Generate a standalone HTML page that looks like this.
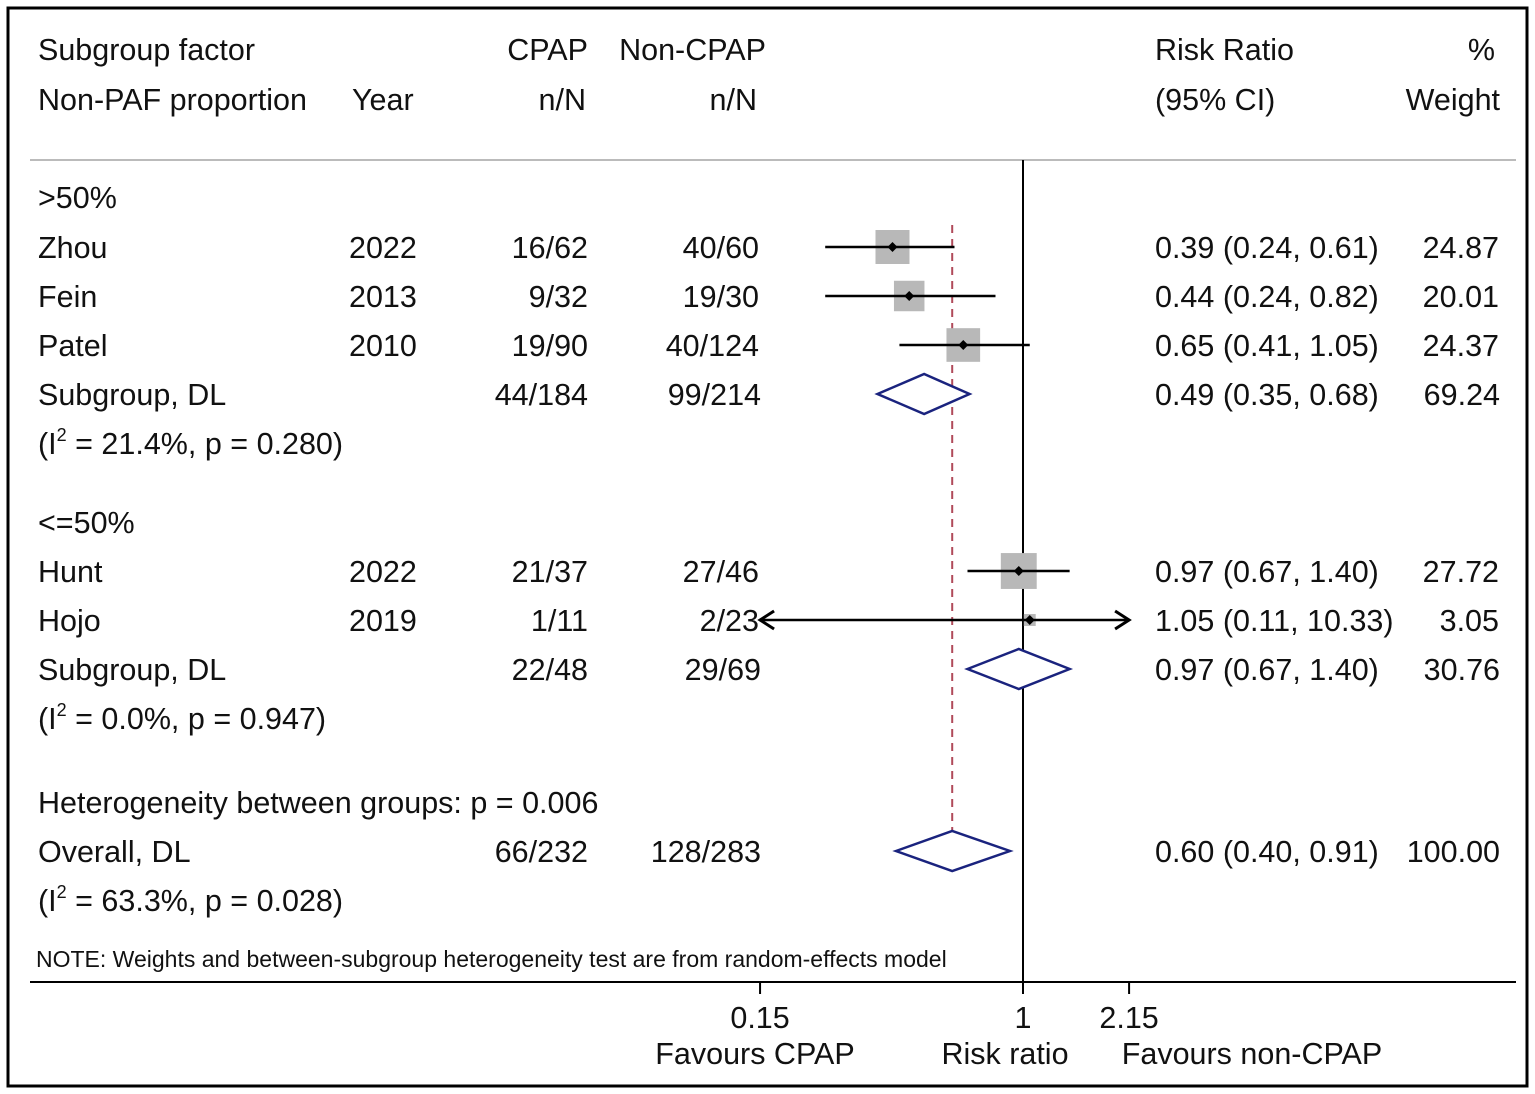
<!DOCTYPE html>
<html><head><meta charset="utf-8"><style>
html,body{margin:0;padding:0;background:#fff;}
svg{display:block;font-family:"Liberation Sans",Arial,sans-serif;}
</style></head><body>
<svg id="chart" width="1535" height="1094" viewBox="0 0 1535 1094">
<rect x="8" y="8" width="1519" height="1078" fill="#fff" stroke="#000" stroke-width="3"/>
<g font-size="30.5" fill="#111">
<text x="38" y="60">Subgroup factor</text>
<text x="588" y="60" text-anchor="end">CPAP</text>
<text x="766" y="60" text-anchor="end">Non-CPAP</text>
<text x="1155" y="60">Risk Ratio</text>
<text x="1495" y="60" text-anchor="end">%</text>
<text x="38" y="110">Non-PAF proportion</text>
<text x="352" y="110">Year</text>
<text x="586" y="110" text-anchor="end">n/N</text>
<text x="757" y="110" text-anchor="end">n/N</text>
<text x="1155" y="110">(95% CI)</text>
<text x="1500" y="110" text-anchor="end">Weight</text>
</g>
<line x1="30" y1="160" x2="1516" y2="160" stroke="#bbb" stroke-width="2"/>
<line x1="1023" y1="160" x2="1023" y2="982" stroke="#000" stroke-width="2"/>
<line x1="30" y1="982" x2="1516" y2="982" stroke="#000" stroke-width="2"/>
<g id="marks"></g>
<g id="texts" font-size="30.5" fill="#111"></g>
<text x="36" y="967" font-size="23" fill="#111">NOTE: Weights and between-subgroup heterogeneity test are from random-effects model</text>
<g id="axis" font-size="30.5" fill="#111"></g>
<text x="1005" y="1064" font-size="30.5" text-anchor="middle" fill="#111">Risk ratio</text>
<text x="755" y="1064" font-size="30.5" text-anchor="middle" fill="#111">Favours CPAP</text>
<text x="1252" y="1064" font-size="30.5" text-anchor="middle" fill="#111">Favours non-CPAP</text>
</svg>
<script>
const studyNames=["Zhou","Fein","Patel","Hunt","Hojo"];
const studyYears=["2022","2013","2010","2022","2019"];
const studyCpap=["16/62","9/32","19/90","21/37","1/11"];
const studyNon=["40/60","19/30","40/124","27/46","2/23"];
const studyRR=[0.39,0.44,0.65,0.97,1.05];
const studyLo=[0.24,0.24,0.41,0.67,0.11];
const studyHi=[0.61,0.82,1.05,1.40,10.33];
const studyW=[24.87,20.01,24.37,27.72,3.05];
const studyRows=[1,2,3,6,7];
const poolLabels=["Subgroup, DL","Subgroup, DL","Overall, DL"];
const poolCpap=["44/184","22/48","66/232"];
const poolNon=["99/214","29/69","128/283"];
const poolRR=[0.49,0.97,0.60];
const poolLo=[0.35,0.67,0.40];
const poolHi=[0.68,1.40,0.91];
const poolW=[69.24,30.76,100.00];
const poolRows=[4,8,11];
const tickVals=[0.15,1,2.15];
const tickLabels=["0.15","1","2.15"];
const NS="http://www.w3.org/2000/svg";
const X0=1023,K=138.6,XMIN=0.15,XMAX=2.15;
const xs=v=>X0+K*Math.log(v);
const rowY=r=>[0,247,296,345,394,443,571,620,669,718,802,851,900][r];
function mk(tag,attrs,parent){const e=document.createElementNS(NS,tag);for(const k in attrs)e.setAttribute(k,attrs[k]);parent.appendChild(e);return e;}
const marks=document.getElementById('marks'),texts=document.getElementById('texts'),axis=document.getElementById('axis');
const f2=v=>v.toFixed(2);
function txt(s,x,y,anchor,name){const t=mk('text',{x:x,y:y,'text-anchor':anchor},texts);t.textContent=s;

return t;}
const dl=mk('line',{x1:xs(poolRR[2]),y1:225,x2:xs(poolRR[2]),y2:872,stroke:'#b04a5a','stroke-width':2,'stroke-dasharray':'8,6'},marks);


studyNames.forEach((n,i)=>{
 const y=rowY(studyRows[i]);const x=xs(studyRR[i]);
 const s=34*Math.sqrt(studyW[i]/24.87);
 const b=mk('rect',{x:x-s/2,y:y-s/2,width:s,height:s,fill:'#b8b8b8'},marks);
 
 
 const lo=Math.max(studyLo[i],XMIN),hi=Math.min(studyHi[i],XMAX);
 const l=mk('line',{x1:xs(lo),y1:y,x2:xs(hi),y2:y,stroke:'#000','stroke-width':2.5},marks);
 
 
 if(studyLo[i]<XMIN){const a=mk('polyline',{points:`${xs(lo)+14},${y-9} ${xs(lo)},${y} ${xs(lo)+14},${y+9}`,fill:'none',stroke:'#000','stroke-width':3},marks);
 
 }
 if(studyHi[i]>XMAX){const a=mk('polyline',{points:`${xs(hi)-14},${y-9} ${xs(hi)},${y} ${xs(hi)-14},${y+9}`,fill:'none',stroke:'#000','stroke-width':3},marks);
 
 }
 const d=mk('polygon',{points:`${x},${y-5} ${x+5},${y} ${x},${y+5} ${x-5},${y}`,fill:'#000'},marks);
 
 
 const by=y+11;
 txt(n,38,by,'start','study-name');txt(studyYears[i],349,by,'start','study-year');
 txt(studyCpap[i],588,by,'end','cpap-events');txt(studyNon[i],759,by,'end','non-cpap-events');
 txt(`${f2(studyRR[i])} (${f2(studyLo[i])}, ${f2(studyHi[i])})`,1155,by,'start','risk-ratio-ci');
 txt(f2(studyW[i]),1499,by,'end','weight');
});
poolLabels.forEach((n,i)=>{
 const y=rowY(poolRows[i]);
 const d=mk('polygon',{points:`${xs(poolLo[i])},${y} ${xs(poolRR[i])},${y-20} ${xs(poolHi[i])},${y} ${xs(poolRR[i])},${y+20}`,fill:'#fff',stroke:'#1a237e','stroke-width':2.5},marks);
 
 
 const by=y+11;
 txt(n,38,by,'start','pooled-label');txt(poolCpap[i],588,by,'end','cpap-events');txt(poolNon[i],761,by,'end','non-cpap-events');
 txt(`${f2(poolRR[i])} (${f2(poolLo[i])}, ${f2(poolHi[i])})`,1155,by,'start','risk-ratio-ci');
 txt(f2(poolW[i]),1500,by,'end','weight');
});
txt('>50%',38,208,'start','subgroup-heading');
txt('<=50%',38,533,'start','subgroup-heading');
txt('Heterogeneity between groups: p = 0.006',38,813,'start','heterogeneity-between');
function het(s,y){const t=txt('',38,y,'start','heterogeneity-stat');
 const a=document.createElementNS(NS,'tspan');a.textContent='(I';t.appendChild(a);
 const b=document.createElementNS(NS,'tspan');b.setAttribute('font-size','18');b.setAttribute('dy','-13');b.textContent='2';t.appendChild(b);
 const c=document.createElementNS(NS,'tspan');c.setAttribute('dy','13');c.textContent=s;t.appendChild(c);}
het(' = 21.4%, p = 0.280)',454);het(' = 0.0%, p = 0.947)',729);het(' = 63.3%, p = 0.028)',911);
tickVals.forEach((v,i)=>{const x=xs(v);
 const l=mk('line',{x1:x,y1:982,x2:x,y2:994,stroke:'#000','stroke-width':2},axis);
 
 
 const t=mk('text',{x:x,y:1028,'text-anchor':'middle'},axis);t.textContent=tickLabels[i];
 
 });
</script>
</body></html>
